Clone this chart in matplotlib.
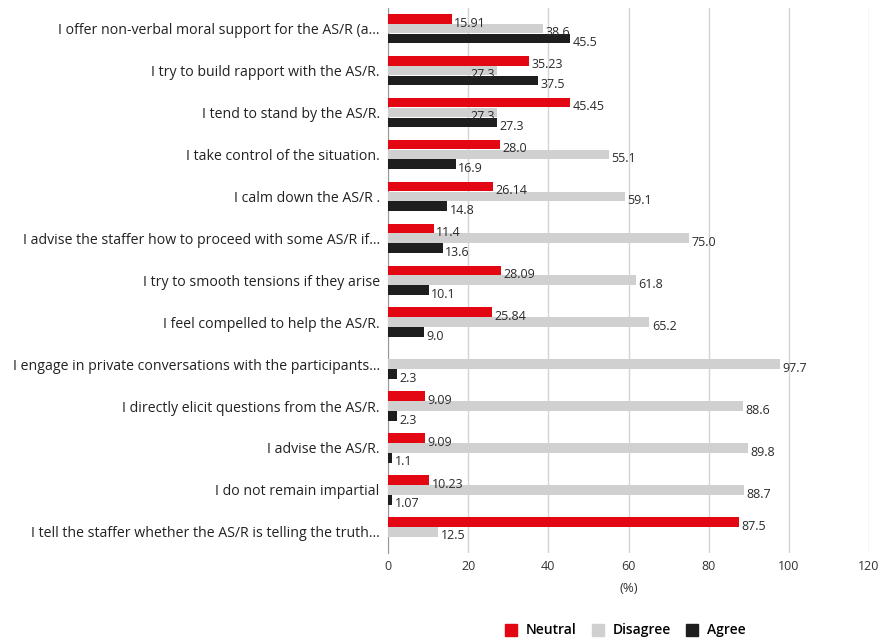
import numpy as np
import matplotlib
matplotlib.use("Agg")
import matplotlib.pyplot as plt
from matplotlib.lines import Line2D

plt.rcParams['font.family'] = ['Open Sans', 'DejaVu Sans']

categories = [
    "I offer non-verbal moral support for the AS/R (a…",
    "I try to build rapport with the AS/R.",
    "I tend to stand by the AS/R.",
    "I take control of the situation.",
    "I calm down the AS/R .",
    "I advise the staffer how to proceed with some AS/R if…",
    "I try to smooth tensions if they arise",
    "I feel compelled to help the AS/R.",
    "I engage in private conversations with the participants…",
    "I directly elicit questions from the AS/R.",
    "I advise the AS/R.",
    "I do not remain impartial",
    "I tell the staffer whether the AS/R is telling the truth…",
]
neutral = [15.91, 35.23, 45.45, 28.0, 26.14, 11.4, 28.09, 25.84, None, 9.09, 9.09, 10.23, 87.5]
disagree = [38.6, 27.3, 27.3, 55.1, 59.1, 75.0, 61.8, 65.2, 97.7, 88.6, 89.8, 88.7, 12.5]
agree = [45.5, 37.5, 27.3, 16.9, 14.8, 13.6, 10.1, 9.0, 2.3, 2.3, 1.1, 1.07, None]
neutral_txt = ["15.91", "35.23", "45.45", "28.0", "26.14", "11.4", "28.09", "25.84", "", "9.09", "9.09", "10.23", "87.5"]
disagree_txt = ["38.6", "27.3", "27.3", "55.1", "59.1", "75.0", "61.8", "65.2", "97.7", "88.6", "89.8", "88.7", "12.5"]
agree_txt = ["45.5", "37.5", "27.3", "16.9", "14.8", "13.6", "10.1", "9.0", "2.3", "2.3", "1.1", "1.07", ""]

series = [
    ("Neutral", neutral, neutral_txt, "#e30613"),
    ("Disagree", disagree, disagree_txt, "#d0d0d0"),
    ("Agree", agree, agree_txt, "#1e1e1e"),
]

def num(vals):
    return np.array([np.nan if x is None else x for x in vals], dtype=float)

fig = plt.figure(figsize=(8.84, 6.42), dpi=100)
ax = fig.add_axes([0.439, 0.139, 0.544, 0.849])

y = np.arange(len(categories))
h = 0.23
offsets = [-0.235, 0.0, 0.235]
nv, dv, av = num(neutral), num(disagree), num(agree)

for k, ((name, vals, txts, col), off) in enumerate(zip(series, offsets)):
    v = num(vals)
    ax.barh(y + off, np.nan_to_num(v), height=h, color=col, zorder=3)
    for i, (yi, val, t) in enumerate(zip(y, v, txts)):
        if np.isnan(val) or t == "":
            continue
        # middle label goes inside its bar when both neighbour bars are at least as long
        inside = k == 1 and nv[i] >= val and av[i] >= val
        if inside:
            ax.text(val - 0.6, yi + off + 0.1, t, va='center', ha='right',
                    fontsize=9, color='#2a2a2a', zorder=4)
        else:
            ax.text(val + 0.6, yi + off + 0.1, t, va='center', ha='left',
                    fontsize=9, color='#2a2a2a', zorder=4)

ax.set_ylim(12.5, -0.5)
ax.set_xlim(0, 120)
ax.set_xticks(range(0, 121, 20))
ax.set_yticks(y)
ax.set_yticklabels(categories, fontsize=10.2, color='#222222')
ax.tick_params(axis='y', length=0, pad=6)
ax.tick_params(axis='x', length=0, pad=5, labelsize=9, colors='#333333')
ax.xaxis.grid(True, color='#d4d4d4', linewidth=1, zorder=0)
ax.set_axisbelow(True)
for s in ['top', 'right', 'bottom']:
    ax.spines[s].set_visible(False)
ax.spines['left'].set_color('#999999')
ax.set_xlabel("(%)", fontsize=9.5, color='#333333', labelpad=7)

handles = [Line2D([], [], marker='s', linestyle='none', markersize=9,
                  markerfacecolor=c, markeredgecolor=c) for _, _, _, c in series]
fig.legend(handles, [s[0] for s in series], loc='center', bbox_to_anchor=(0.703, 0.018),
           ncol=3, frameon=False, handletextpad=0.1, columnspacing=0.5,
           prop={'size': 10, 'weight': 'semibold'})

fig.savefig("out.png", dpi=100)
